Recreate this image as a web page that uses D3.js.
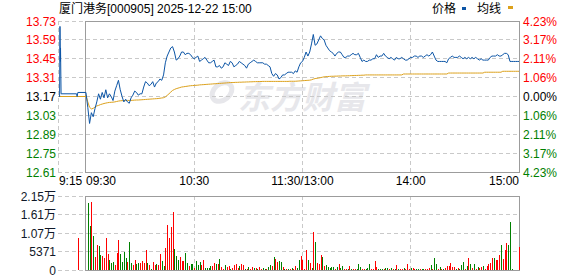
<!DOCTYPE html>
<html>
<head>
<meta charset="utf-8">
<script src="https://cdn.jsdelivr.net/npm/d3@7/dist/d3.min.js"></script>
<style>
  body { margin: 0; background: #fff; }
  svg { display: block; font-family: "Liberation Sans", Arial, "Noto Sans CJK SC", sans-serif; }
</style>
</head>
<body>
<div id="wrapper"></div>
<script>
const title = "厦门港务[000905] 2025-12-22 15:00"
const legendNames = ["价格", "均线"]

const priceTicks = [13.73, 13.59, 13.45, 13.31, 13.17, 13.03, 12.89, 12.75, 12.61]
const pctLabels = ["4.23%", "3.17%", "2.11%", "1.06%", "0.00%", "1.06%", "2.11%", "3.17%", "4.23%"]
const prevClose = 13.17

const volTicks = [0, 5371, 10742, 16113, 21484]
const volTickLabels = ["0", "5371", "1.07万", "1.61万", "2.15万"]

// minutes counted from 09:30, lunch break removed
const timeTicks = [-15, 0, 60, 120, 180, 240]
const timeLabels = ["9:15", "09:30", "10:30", "11:30/13:00", "14:00", "15:00"]

// call auction 9:15 - 9:30
const auctionMinutes = [-15, -14.6, -14.4, -14.2, -14.1, -13.8, -5.2, -4.9, -4.5, 0]
const auctionPrices = [13.17, 13.17, 13.69, 13.43, 13.53, 13.19, 13.19, 13.17, 13.20, 13.20]
const auctionAvgMinutes = [-15, 0]
const auctionAvgPrices = [13.17, 13.17]
const auctionVolMinute = -4.5
const auctionVolume = 9380

// one price per minute, 09:30 .. 15:00 (241 points)
const prices = [
  13.20,13.09,12.97,13.05,13.02,13.08,13.13,13.19,13.15,13.20,
  13.16,13.22,13.16,13.19,13.17,13.14,13.21,13.25,13.29,13.22,
  13.17,13.13,13.15,13.13,13.12,13.16,13.18,13.21,13.20,13.18,
  13.19,13.19,13.24,13.28,13.27,13.25,13.26,13.28,13.24,13.27,
  13.28,13.30,13.29,13.33,13.42,13.47,13.50,13.53,13.54,13.50,
  13.44,13.45,13.47,13.50,13.50,13.48,13.49,13.49,13.48,13.46,
  13.45,13.46,13.47,13.43,13.44,13.45,13.46,13.44,13.42,13.42,
  13.43,13.44,13.39,13.39,13.40,13.38,13.39,13.42,13.41,13.40,
  13.43,13.42,13.39,13.40,13.41,13.43,13.42,13.41,13.40,13.38,
  13.41,13.42,13.43,13.44,13.43,13.42,13.42,13.42,13.42,13.41,
  13.41,13.40,13.39,13.34,13.32,13.34,13.33,13.30,13.31,13.33,
  13.33,13.34,13.35,13.35,13.35,13.34,13.36,13.35,13.39,13.42,
  13.43,
  13.46,13.50,13.47,13.50,13.56,13.63,13.55,13.56,13.59,13.62,
  13.60,13.59,13.55,13.53,13.51,13.50,13.49,13.47,13.49,13.50,
  13.50,13.48,13.46,13.46,13.47,13.47,13.48,13.49,13.48,13.48,
  13.49,13.46,13.43,13.44,13.43,13.43,13.44,13.44,13.45,13.45,
  13.48,13.46,13.47,13.47,13.49,13.47,13.46,13.45,13.46,13.45,
  13.44,13.46,13.45,13.45,13.46,13.45,13.44,13.44,13.45,13.46,
  13.46,13.47,13.47,13.46,13.47,13.47,13.46,13.47,13.48,13.47,
  13.48,13.50,13.47,13.44,13.43,13.43,13.43,13.43,13.43,13.42,
  13.45,13.46,13.47,13.46,13.46,13.46,13.47,13.46,13.45,13.46,
  13.45,13.46,13.45,13.46,13.45,13.46,13.45,13.44,13.45,13.44,
  13.44,13.44,13.44,13.46,13.47,13.47,13.47,13.48,13.47,13.47,
  13.48,13.49,13.49,13.48,13.43,13.43,13.43,13.43,13.43,13.43
]

const avgPrices = [
  13.180,13.130,13.090,13.078,13.082,13.092,13.100,13.104,13.110,13.114,
  13.118,13.121,13.124,13.126,13.127,13.128,13.130,13.133,13.136,13.138,
  13.139,13.140,13.140,13.141,13.141,13.141,13.142,13.143,13.144,13.144,
  13.145,13.146,13.147,13.148,13.149,13.150,13.151,13.152,13.153,13.154,
  13.155,13.157,13.159,13.161,13.167,13.178,13.190,13.203,13.215,13.222,
  13.228,13.232,13.236,13.240,13.242,13.244,13.246,13.248,13.250,13.251,
  13.252,13.253,13.254,13.256,13.257,13.258,13.259,13.260,13.261,13.262,
  13.263,13.264,13.265,13.266,13.267,13.268,13.269,13.270,13.271,13.272,
  13.273,13.274,13.274,13.275,13.275,13.276,13.276,13.277,13.277,13.278,
  13.278,13.279,13.279,13.280,13.280,13.281,13.281,13.281,13.282,13.282,
  13.282,13.282,13.282,13.282,13.282,13.282,13.282,13.282,13.282,13.282,
  13.282,13.282,13.282,13.283,13.283,13.283,13.283,13.284,13.285,13.286,
  13.287,
  13.288,13.289,13.290,13.291,13.294,13.299,13.303,13.305,13.307,13.310,
  13.313,13.316,13.317,13.318,13.319,13.320,13.320,13.321,13.321,13.322,
  13.322,13.323,13.323,13.323,13.324,13.324,13.325,13.325,13.326,13.326,
  13.327,13.327,13.328,13.328,13.330,13.330,13.330,13.330,13.330,13.330,
  13.330,13.330,13.330,13.330,13.330,13.330,13.330,13.330,13.330,13.330,
  13.330,13.330,13.330,13.330,13.330,13.337,13.337,13.337,13.337,13.337,
  13.337,13.337,13.337,13.337,13.337,13.337,13.337,13.337,13.337,13.337,
  13.337,13.337,13.337,13.337,13.337,13.337,13.337,13.337,13.337,13.337,
  13.344,13.344,13.344,13.344,13.344,13.344,13.344,13.344,13.344,13.344,
  13.344,13.344,13.344,13.344,13.344,13.344,13.344,13.344,13.344,13.344,
  13.350,13.350,13.350,13.350,13.350,13.350,13.350,13.350,13.350,13.350,
  13.357,13.357,13.357,13.357,13.357,13.357,13.357,13.357,13.357,13.357
]

// volume per minute, 09:31 .. 15:00 (240 bars)
const volumes = [
  19460,12780,19750,9870,3780,7260,6970,4360,4070,3480,
  9290,4650,2900,2030,2320,1450,4940,8710,4650,2320,
  5230,3480,2320,8130,2030,1450,2900,1740,2030,1940,
  2610,2030,5810,2030,1450,290,2320,1450,1740,1450,
  4650,2610,1160,6390,13070,9290,12490,16840,6100,4070,
  2900,3780,2610,2610,4940,2030,1160,1740,1740,580,
  2610,1450,2320,1450,2900,580,580,580,1160,1160,
  2030,1740,1740,3190,870,290,1450,870,1160,290,
  580,1450,1740,580,1160,1740,1450,290,290,870,
  290,870,580,580,290,870,290,580,290,290,
  870,1450,1160,3780,3190,2320,2610,2320,870,290,
  290,290,290,580,290,1160,580,2900,4070,2900,
  290,5810,2900,2030,580,11040,8130,2030,1740,4360,
  3780,1160,1450,870,580,870,870,290,870,1740,
  580,1160,290,290,290,1160,290,290,290,290,
  1740,870,290,290,290,580,1740,290,290,2610,
  870,290,290,290,290,580,580,290,580,290,
  290,1450,290,290,290,580,290,1740,290,580,
  580,290,290,290,290,290,290,290,290,580,
  1450,290,3480,1740,290,870,290,290,580,1160,
  1160,2030,870,870,290,580,290,1450,2320,290,
  1160,3480,1740,580,1740,290,870,580,870,1160,
  290,1160,1740,2030,3480,3480,2900,2900,4360,7260,
  3190,5810,7840,7260,13940,290,0,0,0,6780
]
// R = up minute, G = down minute
const volDirections = (
  "GGRGRRGGRR" + "RRGGGRRRGG" + "GGRGGRRGGR" + "RRRGRGRRGR" +
  "RGGRRRRRGG" + "GRRRGGRGGR" + "GGGRRGGGGR" + "RGRGRRGRRG" +
  "RRRRGRRGRG" + "RRGRGRRGGR" + "GGRGRRGGRG" + "RGRGRRGGRR" +
  "RRGRGRGRRR" + "GRGGGGGRGR" + "GGRRGRGRRG" + "GGRRGGGRRR" +
  "RGGGRGGRGR" + "GRGRRGRRRG" + "RRGGRGGRRR" + "GRGGRGRGRR" +
  "RRRRGRGGGR" + "GRGRGRGRRG" + "RRRRRGRRRG" + "RRRGGGRRRR"
).split("")

const colors = {
  price: "#0c55a6",
  avg: "#dca11c",
  up: "#ff0000",
  down: "#008000",
  grid: "#c9c9c9",
  frame: "#9c9c9c"
}

const dimensions = {
  width: 578,
  height: 276,
  left: 58.9,
  open: 86,
  right: 519,
  priceTop: 21,
  priceBottom: 172,
  volTop: 196,
  volBottom: 270
}

const svg = d3.select("#wrapper")
  .append("svg")
  .attr("width", dimensions.width)
  .attr("height", dimensions.height)

const xScaler = d3.scaleLinear()
  .domain([-15, 240])
  .range([dimensions.left, dimensions.right])
const yScaler = d3.scaleLinear()
  .domain([12.61, 13.73])
  .range([dimensions.priceBottom, dimensions.priceTop])
const volScaler = d3.scaleLinear()
  .domain([0, 21484])
  .range([dimensions.volBottom, dimensions.volTop])

const px = v => Math.floor(v) + 0.5

// watermark
const mark = svg.append("g").attr("fill", "#e7e7eb")
mark.append("ellipse")
  .attr("cx", 222).attr("cy", 92).attr("rx", 11).attr("ry", 8)
  .attr("transform", "rotate(-40 222 92)")
  .attr("fill", "none").attr("stroke", "#e7e7eb").attr("stroke-width", 5)
mark.append("text")
  .attr("x", 238).attr("y", 109)
  .attr("font-size", 32).attr("font-weight", "bold").attr("font-style", "italic")
  .attr("font-family", "'Noto Sans CJK SC', sans-serif")
  .text("东方财富")

// price grid
const grid = svg.append("g")
  .attr("stroke", colors.grid)
  .attr("stroke-dasharray", "4,3")
  .attr("shape-rendering", "crispEdges")

grid.selectAll(".ph")
  .data(priceTicks)
  .enter().append("line")
  .attr("x1", dimensions.left - 1)
  .attr("x2", (d, i) => (i == 0 || i == priceTicks.length - 1) ? px(xScaler(0)) : dimensions.right)
  .attr("y1", d => px(yScaler(d)))
  .attr("y2", d => px(yScaler(d)))

grid.selectAll(".vh")
  .data(volTicks)
  .enter().append("line")
  .attr("x1", dimensions.left - 1)
  .attr("x2", (d, i) => (i == 0 || i == volTicks.length - 1) ? px(xScaler(0)) : dimensions.right)
  .attr("y1", d => px(volScaler(d)))
  .attr("y2", d => px(volScaler(d)))

grid.append("line")
  .attr("x1", px(xScaler(-15))).attr("x2", px(xScaler(-15)))
  .attr("y1", dimensions.priceTop).attr("y2", dimensions.priceBottom)

grid.selectAll(".pv")
  .data([60, 120, 180])
  .enter().append("g")
  .each(function(d) {
    const g = d3.select(this)
    g.append("line")
      .attr("x1", px(xScaler(d))).attr("x2", px(xScaler(d)))
      .attr("y1", dimensions.priceTop).attr("y2", dimensions.priceBottom)
    g.append("line")
      .attr("x1", px(xScaler(d))).attr("x2", px(xScaler(d)))
      .attr("y1", dimensions.volTop).attr("y2", dimensions.volBottom)
  })

// frames
const frame = svg.append("g")
  .attr("fill", "none")
  .attr("stroke", colors.frame)
  .attr("shape-rendering", "crispEdges")
frame.append("rect")
  .attr("x", px(xScaler(0)))
  .attr("y", px(yScaler(13.73)))
  .attr("width", px(xScaler(240)) - px(xScaler(0)))
  .attr("height", px(yScaler(12.61)) - px(yScaler(13.73)))
frame.append("rect")
  .attr("x", px(xScaler(0)))
  .attr("y", px(volScaler(21484)))
  .attr("width", px(xScaler(240)) - px(xScaler(0)))
  .attr("height", px(volScaler(0)) - px(volScaler(21484)))

// volume bars
const bars = volumes.map((v, i) => ({ m: i + 1, v: v, dir: volDirections[i] }))
bars.push({ m: auctionVolMinute, v: auctionVolume, dir: "R" })

svg.append("g")
  .attr("shape-rendering", "crispEdges")
  .selectAll("rect")
  .data(bars.filter(d => d.v > 0))
  .enter().append("rect")
  .attr("x", d => Math.round(xScaler(d.m)))
  .attr("y", d => volScaler(d.v))
  .attr("width", 1)
  .attr("height", d => volScaler(0) - volScaler(d.v))
  .attr("fill", d => d.dir == "R" ? colors.up : colors.down)

// lines
const lineGen = d3.line()
  .x(d => xScaler(d[0]))
  .y(d => yScaler(d[1]))

const avgPoints = auctionAvgMinutes.map((m, i) => [m, auctionAvgPrices[i]])
const avgDay = avgPrices.map((p, i) => [i, p])
svg.append("path")
  .attr("d", lineGen(avgPoints))
  .attr("fill", "none").attr("stroke", colors.avg).attr("stroke-width", 1)
svg.append("path")
  .attr("d", lineGen(avgDay))
  .attr("fill", "none").attr("stroke", colors.avg).attr("stroke-width", 1)

const pricePoints = auctionMinutes.map((m, i) => [m, auctionPrices[i]])
  .concat(prices.map((p, i) => [i, p]))
svg.append("path")
  .attr("d", lineGen(pricePoints))
  .attr("fill", "none").attr("stroke", colors.price).attr("stroke-width", 1)

// axis labels
const tickColor = d => d > prevClose + 0.001 ? colors.up : (d < prevClose - 0.001 ? colors.down : "#000")

svg.append("g")
  .attr("font-size", 12)
  .attr("text-anchor", "end")
  .selectAll("text")
  .data(priceTicks)
  .enter().append("text")
  .attr("x", 56)
  .attr("y", d => yScaler(d) + 4.5)
  .attr("fill", tickColor)
  .text(d => d.toFixed(2))

svg.append("g")
  .attr("font-size", 12)
  .selectAll("text")
  .data(priceTicks)
  .enter().append("text")
  .attr("x", 523)
  .attr("y", d => yScaler(d) + 4.5)
  .attr("fill", tickColor)
  .text((d, i) => pctLabels[i])

svg.append("g")
  .attr("font-size", 12)
  .attr("text-anchor", "end")
  .attr("fill", "#101828")
  .selectAll("text")
  .data(volTicks)
  .enter().append("text")
  .attr("x", 56)
  .attr("y", d => volScaler(d) + 4.5)
  .text((d, i) => volTickLabels[i])

svg.append("g")
  .attr("font-size", 12)
  .attr("fill", "#000")
  .selectAll("text")
  .data(timeTicks)
  .enter().append("text")
  .attr("x", d => xScaler(d))
  .attr("y", 185)
  .attr("text-anchor", (d, i) => i < 2 ? "start" : (i == timeTicks.length - 1 ? "end" : "middle"))
  .text((d, i) => timeLabels[i])

// title + legend
svg.append("text")
  .attr("x", 59).attr("y", 13)
  .attr("font-size", 12).attr("fill", "#000")
  .text(title)

const legend = svg.append("g").attr("font-size", 12).attr("fill", "#000")
legend.append("text").attr("x", 432).attr("y", 13).text(legendNames[0])
legend.append("rect").attr("x", 462).attr("y", 7).attr("width", 4).attr("height", 3).attr("fill", colors.price)
legend.append("text").attr("x", 477).attr("y", 13).text(legendNames[1])
legend.append("rect").attr("x", 508).attr("y", 6).attr("width", 5).attr("height", 3).attr("fill", colors.avg)
</script>
</body>
</html>
